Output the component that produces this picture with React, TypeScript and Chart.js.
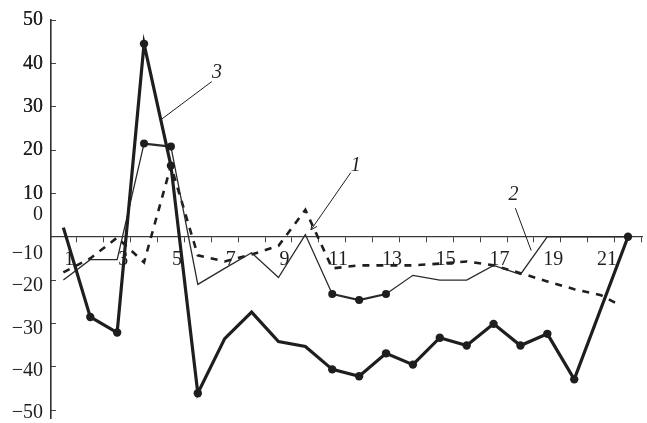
import React, { useEffect, useRef } from 'react';
import { Chart, registerables } from 'chart.js';

Chart.register(...registerables);

const FONT = "'Liberation Serif', 'DejaVu Serif', serif";
const INK = '#1e1e1e';

// Curve 3 (thick, with dots)
const curve3X = [1, 2, 3, 4, 5, 6, 7, 8, 9, 10, 11, 12, 13, 14, 15, 16, 17, 18, 19, 20, 22];
const curve3Y = [2.1, -18.5, -22.1, 44.5, 16.4, -36.1, -23.5, -17.4, -24.2, -25.3, -30.6, -32.2, -26.9, -29.5, -23.3, -25.1, -20.1, -25.1, -22.4, -32.9, 0];
const curve3Dots = [false, true, true, true, true, true, false, false, false, false, true, true, true, true, true, true, true, true, true, true, true];

// Curve 2 (thin solid)
const curve2X = [1, 2, 3, 4, 5, 6, 7, 8, 9, 10, 11, 12, 13, 14, 15, 16, 17, 18, 19, 20, 21, 22];
const curve2Y = [-10.0, -5.3, -5.3, 21.5, 20.8, -11.0, -7.3, -3.7, -9.4, 0.5, -13.2, -14.6, -13.2, -8.9, -10.0, -10.0, -6.6, -8.7, 0, 0, 0, 0];
const curve2Dots = [false, false, false, true, true, false, false, false, false, false, true, true, true, false, false, false, false, false, false, false, false, false];
const curve2HeavySegments = [3, 10, 11];

// Curve 1 (dashed)
const curve1X = [1, 2, 3, 4, 5, 6, 7, 8, 9, 10, 11, 12, 13, 14, 15, 16, 17, 18, 19, 20, 21, 21.7];
const curve1Y = [-8.2, -5.0, -0.2, -5.9, 16.4, -4.3, -5.7, -4.1, -2.1, 6.2, -7.3, -6.6, -6.6, -6.6, -6.2, -5.7, -6.6, -8.4, -10.3, -12.1, -13.5, -15.8];

// Axis ticks
const xLabelValues = [1, 3, 5, 7, 9, 11, 13, 15, 17, 19, 21];
const xMarkValues = [1.5, 2.5, 3.5, 4.5, 5.5, 6.5, 7.5, 8.5, 9.5, 10.5, 11.5, 12.5, 13.5, 14.5, 15.5, 16.5, 17.5, 18.5, 19.5, 20.5, 21.5, 22.5];
const yMarkValues = [50, 40, 30, 20, 10, -10, -20, -30, -40];
const yLabelValues = [50, 40, 30, 20, 10, 5, -4, -11.2, -21.2, -31, -40.5];
const yLabelTexts = ['50', '40', '30', '20', '10', '0', '\u221210', '\u221220', '\u221230', '\u221240', '\u221250'];

// Curve number labels and their leader lines (in data units)
const noteTexts = ['3', '1', '2'];
const noteX = [6.71, 11.87, 17.74];
const noteY = [37.9, 16.4, 9.6];
const leadFromX = [6.52, 11.69, 17.81];
const leadFromY = [35.8, 14.8, 6.6];
const leadToX = [4.67, 10.21, 18.4];
const leadToY = [27.2, 1.6, -3.2];
const leadArrow = [false, true, false];

const notesPlugin = {
  id: 'curveNotes',
  afterDatasetsDraw(chart: any) {
    const { ctx } = chart;
    const xs = chart.scales.x;
    const ys = chart.scales.y;
    ctx.save();
    ctx.strokeStyle = INK;
    ctx.lineWidth = 1;
    for (let i = 0; i < noteTexts.length; i++) {
      const x1 = xs.getPixelForValue(leadFromX[i]);
      const y1 = ys.getPixelForValue(leadFromY[i]);
      const x2 = xs.getPixelForValue(leadToX[i]);
      const y2 = ys.getPixelForValue(leadToY[i]);
      ctx.beginPath();
      ctx.moveTo(x1, y1);
      ctx.lineTo(x2, y2);
      ctx.stroke();
      if (leadArrow[i]) {
        const a = Math.atan2(y2 - y1, x2 - x1);
        const len = 7;
        ctx.beginPath();
        ctx.moveTo(x2 - len * Math.cos(a - 0.45), y2 - len * Math.sin(a - 0.45));
        ctx.lineTo(x2, y2);
        ctx.lineTo(x2 - len * Math.cos(a + 0.45), y2 - len * Math.sin(a + 0.45));
        ctx.stroke();
      }
      ctx.font = `italic 20px ${FONT}`;
      ctx.fillStyle = INK;
      ctx.textAlign = 'center';
      ctx.textBaseline = 'middle';
      ctx.fillText(noteTexts[i], xs.getPixelForValue(noteX[i]), ys.getPixelForValue(noteY[i]));
    }
    ctx.restore();
  },
};

export default function App() {
  const ref = useRef<HTMLCanvasElement | null>(null);

  useEffect(() => {
    if (!ref.current) return;
    const chart = new Chart(ref.current, {
      type: 'line',
      data: {
        datasets: [
          {
            label: '3',
            data: curve3X.map((x, i) => ({ x, y: curve3Y[i] })),
            borderColor: INK,
            backgroundColor: INK,
            borderWidth: 3.2,
            pointRadius: curve3Dots.map((d) => (d ? 4.2 : 0)),
            pointBackgroundColor: INK,
            pointBorderWidth: 0,
            tension: 0,
            fill: false,
          },
          {
            label: '2',
            data: curve2X.map((x, i) => ({ x, y: curve2Y[i] })),
            borderColor: '#2a2a2a',
            backgroundColor: '#2a2a2a',
            borderWidth: 1.3,
            segment: {
              borderWidth: (c: any) => (curve2HeavySegments.includes(c.p0DataIndex) ? 2.2 : 1.3),
            },
            pointRadius: curve2Dots.map((d) => (d ? 4 : 0)),
            pointBackgroundColor: INK,
            pointBorderWidth: 0,
            tension: 0,
            fill: false,
          },
          {
            label: '1',
            data: curve1X.map((x, i) => ({ x, y: curve1Y[i] })),
            borderColor: INK,
            borderWidth: 2.6,
            borderDash: [7, 7],
            pointRadius: 0,
            tension: 0,
            fill: false,
          },
        ],
      },
      options: {
        animation: false,
        responsive: true,
        maintainAspectRatio: false,
        layout: { padding: { top: 20, left: 0, right: 0, bottom: 0 } },
        plugins: {
          legend: { display: false },
          tooltip: { enabled: false },
        },
        scales: {
          x: {
            type: 'linear',
            min: 0.54,
            max: 22.55,
            position: { y: 0 } as any,
            offset: false,
            border: { display: true, color: '#3a3a3a', width: 1.3 },
            grid: {
              display: true,
              drawOnChartArea: false,
              drawTicks: true,
              tickLength: 5,
              tickWidth: 1,
              tickColor: (c: any) => (c.tick && xMarkValues.includes(c.tick.value) ? '#444' : 'rgba(0,0,0,0)'),
            },
            ticks: {
              autoSkip: false,
              maxRotation: 0,
              minRotation: 0,
              labelOffset: 6,
              padding: 6,
              color: INK,
              font: { family: FONT, size: 20 },
              callback: (v: any) => (xLabelValues.includes(Number(v)) ? String(v) : ''),
            },
            afterBuildTicks: (s: any) => {
              s.ticks = [...xLabelValues, ...xMarkValues].sort((a, b) => a - b).map((value) => ({ value }));
            },
            afterFit: (s: any) => {
              s.paddingLeft = 0;
              s.paddingRight = 0;
              s.paddingTop = 0;
              s.paddingBottom = 0;
            },
          },
          y: {
            type: 'linear',
            min: -42,
            max: 50,
            position: 'left',
            border: { display: true, color: '#2e2e2e', width: 1.6 },
            grid: {
              display: true,
              drawOnChartArea: false,
              drawTicks: true,
              tickLength: -5,
              tickWidth: 1,
              tickColor: (c: any) => (c.tick && yMarkValues.includes(c.tick.value) ? '#444' : 'rgba(0,0,0,0)'),
            },
            ticks: {
              autoSkip: false,
              padding: 13,
              color: INK,
              font: { family: FONT, size: 20 },
              callback: (v: any) => {
                const i = yLabelValues.indexOf(Number(v));
                return i >= 0 ? yLabelTexts[i] : '';
              },
            },
            afterBuildTicks: (s: any) => {
              s.ticks = [...yLabelValues, ...yMarkValues].sort((a, b) => a - b).map((value) => ({ value }));
            },
            afterFit: (s: any) => {
              s.width = 51;
              s.paddingTop = 0;
              s.paddingBottom = 0;
            },
          },
        },
      },
      plugins: [notesPlugin],
    } as any);
    return () => chart.destroy();
  }, []);

  return (
    <div style={{ position: 'fixed', left: 0, top: 0, width: 647, height: 423, background: '#fff' }}>
      <canvas ref={ref} />
    </div>
  );
}
